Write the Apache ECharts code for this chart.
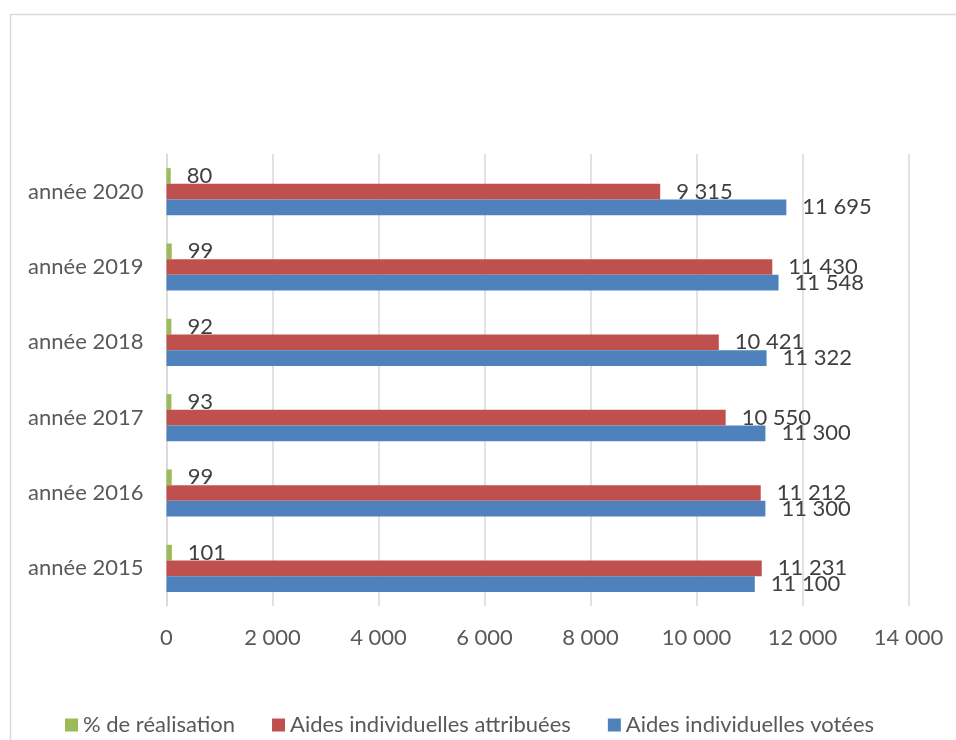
<!DOCTYPE html>
<html>
<head>
<meta charset="utf-8">
<script src="https://cdn.jsdelivr.net/npm/echarts@6/dist/echarts.min.js"></script>
<style>
  html, body { margin: 0; padding: 0; background: #fff; }
  #chart { width: 956px; height: 740px; }
</style>
</head>
<body>
<div id="chart"></div>
<script>
// Years shown on the category axis (bottom to top)
const categories = ['année 2015', 'année 2016', 'année 2017', 'année 2018', 'année 2019', 'année 2020'];
// Series values
const aidesVotees = [11100, 11300, 11300, 11322, 11548, 11695];
const aidesAttribuees = [11231, 11212, 10550, 10421, 11430, 9315];
const pctRealisation = [101, 99, 93, 92, 99, 80];
// Value axis ticks
const axisMin = 0;
const axisMax = 14000;
const axisStep = 2000;

const FONT = 'Lato';
const FS = 22;

function fmt(v) {
  return String(v).replace(/\B(?=(\d{3})+(?!\d))/g, ' ');
}

const labelStyle = {
  show: true,
  position: 'right',
  distance: 16,
  fontFamily: FONT,
  fontSize: FS,
  color: '#404040',
  formatter: p => fmt(p.value)
};

const chart = echarts.init(document.getElementById('chart'), null, { renderer: 'canvas' });

chart.setOption({
  animation: false,
  backgroundColor: '#ffffff',
  graphic: [{
    type: 'rect',
    left: 8,
    top: 12,
    shape: { width: 1000, height: 1000 },
    style: { fill: 'none', stroke: '#d9d9d9', lineWidth: 1.5 },
    silent: true
  }],
  grid: { left: 166.5, right: 47.5, top: 154, bottom: 134, containLabel: false },
  legend: {
    left: 60,
    top: 709,
    icon: 'rect',
    itemWidth: 13,
    itemHeight: 13,
    itemGap: 37,
    textStyle: { fontFamily: FONT, fontSize: FS, color: '#595959' },
    data: ['% de réalisation', 'Aides individuelles attribuées', 'Aides individuelles votées']
  },
  xAxis: {
    type: 'value',
    min: axisMin,
    max: axisMax,
    interval: axisStep,
    axisLine: { show: false },
    axisTick: { show: false },
    axisLabel: {
      margin: 21,
      fontFamily: FONT,
      fontSize: FS,
      color: '#595959',
      formatter: v => fmt(v)
    },
    splitLine: { lineStyle: { color: '#d9d9d9', width: 1.5 } }
  },
  yAxis: {
    type: 'category',
    data: categories,
    axisLine: { show: true, lineStyle: { color: '#d9d9d9', width: 1.5 } },
    axisTick: { show: false },
    axisLabel: { margin: 23, fontFamily: FONT, fontSize: FS, color: '#595959' }
  },
  series: [
    {
      name: '% de réalisation',
      type: 'bar',
      data: pctRealisation,
      barGap: '0%',
      barCategoryGap: '37.5%',
      itemStyle: { color: '#9BBB59' },
      label: labelStyle
    },
    {
      name: 'Aides individuelles attribuées',
      type: 'bar',
      data: aidesAttribuees,
      barGap: '0%',
      barCategoryGap: '37.5%',
      itemStyle: { color: '#C0504D' },
      label: labelStyle
    },
    {
      name: 'Aides individuelles votées',
      type: 'bar',
      data: aidesVotees,
      barGap: '0%',
      barCategoryGap: '37.5%',
      itemStyle: { color: '#4F81BD' },
      label: labelStyle
    }
  ]
});
</script>
</body>
</html>
